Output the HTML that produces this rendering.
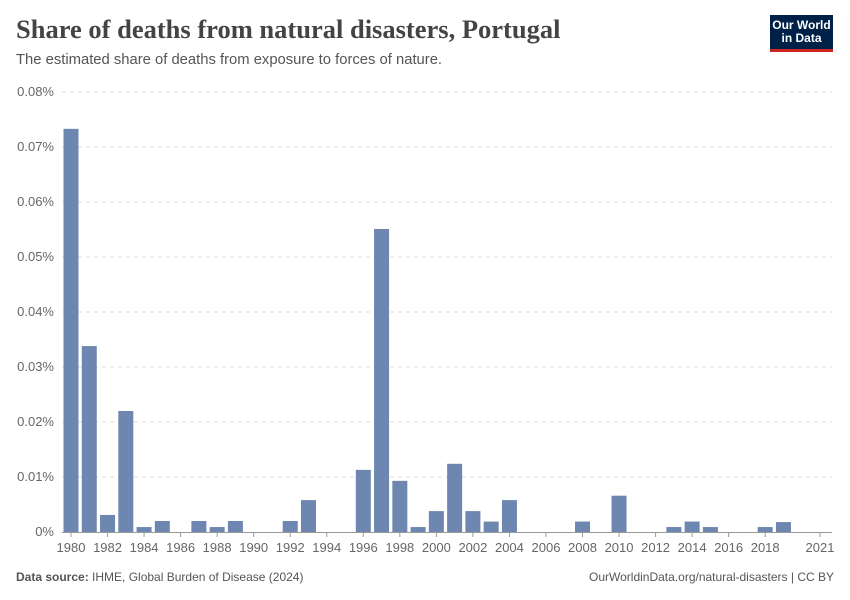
<!DOCTYPE html>
<html><head><meta charset="utf-8"><style>
body{margin:0;width:850px;height:600px;background:#fff;font-family:"Liberation Sans",sans-serif;overflow:hidden;position:relative}
.t{position:absolute}
</style></head><body>
<div class="t" style="left:16px;top:14px;font-family:'Liberation Serif',serif;font-size:26.5px;color:#444;font-weight:bold">Share of deaths from natural disasters, Portugal</div>
<div class="t" style="left:16px;top:52px;font-size:14.8px;color:#555">The estimated share of deaths from exposure to forces of nature.</div>
<div class="t" style="left:770px;top:15px;width:63px;height:37px;background:#002147;border-bottom:3px solid #ce261e;box-sizing:border-box;color:#fff;font-size:12px;font-weight:bold;text-align:center;line-height:13px;padding-top:4px">Our World<br>in Data</div>
<svg id="c" class="t" style="left:0;top:0" width="850" height="600"></svg>
<div class="t" style="left:16px;top:570px;font-size:12px;color:#555"><b>Data source:</b> IHME, Global Burden of Disease (2024)</div>
<div class="t" style="right:16px;top:570px;font-size:12px;color:#555">OurWorldinData.org/natural-disasters | CC BY</div>
<script>
const years=[1980,1981,1982,1983,1984,1985,1986,1987,1988,1989,1990,1991,1992,1993,1994,1995,1996,1997,1998,1999,2000,2001,2002,2003,2004,2005,2006,2007,2008,2009,2010,2011,2012,2013,2014,2015,2016,2017,2018,2019,2020,2021];
const values=[0.0733,0.0338,0.0031,0.022,0.0009,0.002,0,0.002,0.0009,0.002,0,0,0.002,0.0058,0,0,0.0113,0.0551,0.0093,0.0009,0.0038,0.0124,0.0038,0.0019,0.0058,0,0,0,0.0019,0,0.0066,0,0,0.0009,0.0019,0.0009,0,0,0.0009,0.0018,0,0];
const yTicks=[0,0.01,0.02,0.03,0.04,0.05,0.06,0.07,0.08];
const xTicks=[1980,1982,1984,1986,1988,1990,1992,1994,1996,1998,2000,2002,2004,2006,2008,2010,2012,2014,2016,2018,2021];
const svg=document.getElementById('c'),NS='http://www.w3.org/2000/svg';
const y=v=>532-v/0.08*440, x=yr=>71+(yr-1980)*(749/41);
function mk(t,a){const e=document.createElementNS(NS,t);for(const k in a)e.setAttribute(k,a[k]);svg.appendChild(e);return e;}
yTicks.forEach(v=>{
 if(v>0){const l=mk('line',{x1:62,x2:832,y1:y(v),y2:y(v),stroke:'#ddd','stroke-dasharray':'4,4'});
 
 }
 const t=mk('text',{x:54,y:y(v)+4,'text-anchor':'end','font-size':13,fill:'#666'});t.textContent=(+(v).toFixed(2))+'%';
 
 
});
years.forEach((yr,i)=>{if(values[i]<=0)return;
 const r=mk('rect',{x:x(yr)-7.5,y:y(values[i]),width:15,height:532-y(values[i]),fill:'#6d87b1'});
 
 
});
const ax=mk('line',{x1:62,x2:832,y1:532.5,y2:532.5,stroke:'#999'});


xTicks.forEach(yr=>{
 const tk=mk('line',{x1:x(yr),x2:x(yr),y1:532,y2:537,stroke:'#999'});
 
 
 const t=mk('text',{x:x(yr),y:552,'text-anchor':'middle','font-size':13,fill:'#666'});t.textContent=yr;
 
 
});
</script>
</body></html>
